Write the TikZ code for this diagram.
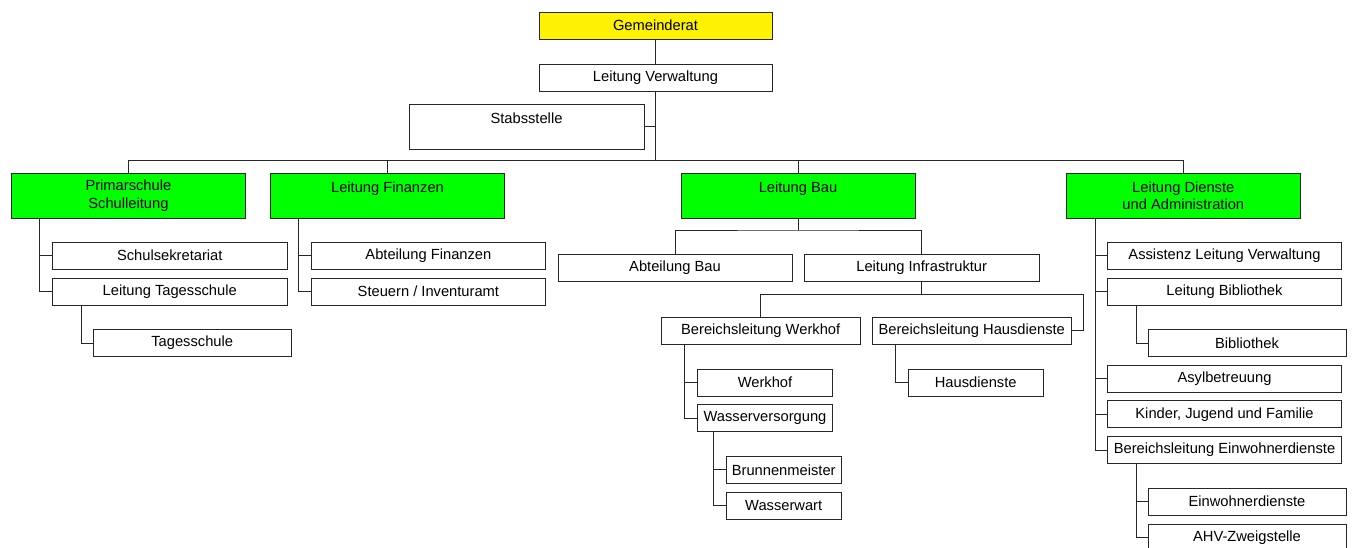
\documentclass[tikz,border=0pt]{standalone}
\usepackage{fontspec}
\setmainfont{Liberation Sans}
\usepackage{tikz}

\tikzset{
	orgbox/.style={draw=black!85, line width=1pt, fill=white, inner sep=0pt,
		minimum width=234.5pt, minimum height=27pt, align=center,
		font=\fontsize{14.7}{17.5}\selectfont},
	leadbox/.style={orgbox, fill=green, minimum width=234pt, minimum height=45pt},
	topbox/.style={orgbox, fill=yellow, minimum width=233pt},
	link/.style={draw=black!85, line width=1pt}
}

\begin{document}
\begin{tikzpicture}[x=1pt, y=-1pt]

	\fill[white] (0,0) rectangle (1353,547);
	\useasboundingbox (0,0) rectangle (1353,547);

	\node[topbox] (rat) at (655.5,25.5) {Gemeinderat};
	\node[orgbox, minimum width=233pt] (lv) at (655.5,77.5) {Leitung Verwaltung};
	\node[orgbox, minimum width=235pt, minimum height=45pt] (stab) at (526.5,126.5) {Stabsstelle\\~};

	\node[leadbox] (prim) at (128.4,195.5) {Primarschule\\Schulleitung};
	\node[leadbox] (fin) at (387.5,195.5) {Leitung Finanzen\\~};
	\node[leadbox] (bau) at (798,195.5) {Leitung Bau\\~};
	\node[leadbox] (dienste) at (1183.3,195.5) {Leitung Dienste\\und Administration};

	\node[orgbox] (ssek) at (169.75,255.7) {Schulsekretariat};
	\node[orgbox] (ltag) at (169.75,291.5) {Leitung Tagesschule};
	\node[orgbox, minimum width=198.4pt] (tag) at (192.2,343) {Tagesschule};

	\node[orgbox, minimum width=234pt] (abtfin) at (428.4,255.7) {Abteilung Finanzen};
	\node[orgbox, minimum width=234pt] (steuer) at (428.4,291.5) {Steuern / Inventuramt};

	\node[orgbox, minimum width=234pt] (abtbau) at (675,267.5) {Abteilung Bau};
	\node[orgbox, minimum width=234.7pt] (linfra) at (921.7,267.5) {Leitung Infrastruktur};
	\node[orgbox, minimum width=198.6pt] (bwerk) at (760.7,330.5) {Bereichsleitung Werkhof};
	\node[orgbox, minimum width=198.5pt] (bhaus) at (971.75,330.5) {Bereichsleitung Hausdienste};
	\node[orgbox, minimum width=135pt] (werkhof) at (765,382.5) {Werkhof};
	\node[orgbox, minimum width=135pt] (wasser) at (765,418.3) {Wasserversorgung};
	\node[orgbox, minimum width=115.4pt] (brunnen) at (783.7,469.8) {Brunnenmeister};
	\node[orgbox, minimum width=115.4pt] (wwart) at (783.7,505.5) {Wasserwart};
	\node[orgbox, minimum width=135pt] (hausd) at (975.7,382.5) {Hausdienste};

	\node[orgbox] (ass) at (1224.5,255.7) {Assistenz Leitung Verwaltung};
	\node[orgbox] (lbib) at (1224.5,291.5) {Leitung Bibliothek};
	\node[orgbox, minimum width=198pt] (bib) at (1247,343.3) {Bibliothek};
	\node[orgbox] (asyl) at (1224.5,378.8) {Asylbetreuung};
	\node[orgbox] (kind) at (1224.5,414.4) {Kinder, Jugend und Familie};
	\node[orgbox] (bein) at (1224.5,450) {Bereichsleitung Einwohnerdienste};
	\node[orgbox, minimum width=198pt] (einw) at (1247,501.5) {Einwohnerdienste};
	\node[orgbox, minimum width=198pt] (ahv) at (1247,537.5) {AHV-Zweigstelle};

	\coordinate (bus) at (0,160.5);
	\coordinate (baubus) at (0,230);
	\coordinate (infrabus) at (1083.2,294);

	\draw[link] (rat) -- (lv);
	\draw[link] (lv.south) -- (lv.south |- bus);
	\draw[link] (stab.east) -- (stab.east -| lv.south);
	\draw[link] (prim.north) |- (dienste.north |- bus) -- (dienste.north);
	\draw[link] (fin.north) -- (fin.north |- bus);
	\draw[link] (bau.north) -- (bau.north |- bus);

	\draw[link] ([xshift=28.6pt]prim.south west) |- (ssek.west);
	\draw[link] ([xshift=28.6pt]prim.south west) |- (ltag.west);
	\draw[link] ([xshift=29.3pt]ltag.south west) |- (tag.west);

	\draw[link] ([xshift=28.5pt]fin.south west) |- (abtfin.west);
	\draw[link] ([xshift=28.5pt]fin.south west) |- (steuer.west);

	\draw[link] (bau.south) -- (bau.south |- baubus);
	\draw[link] (abtbau.north) |- (bau.south |- baubus) -| (linfra.north);
	\draw[link] (linfra.south) -- (linfra.south |- infrabus);
	\draw[link] (bwerk.north) |- (infrabus) |- (bhaus.east);
	\draw[link] ([xshift=24pt]bwerk.south west) |- (werkhof.west);
	\draw[link] ([xshift=24pt]bwerk.south west) |- (wasser.west);
	\draw[link] ([xshift=16.1pt]wasser.south west) |- (brunnen.west);
	\draw[link] ([xshift=16.1pt]wasser.south west) |- (wwart.west);
	\draw[link] ([xshift=23.9pt]bhaus.south west) |- (hausd.west);

	\draw[link] ([xshift=29.3pt]dienste.south west) |- (ass.west);
	\draw[link] ([xshift=29.3pt]dienste.south west) |- (lbib.west);
	\draw[link] ([xshift=29.3pt]dienste.south west) |- (asyl.west);
	\draw[link] ([xshift=29.3pt]dienste.south west) |- (kind.west);
	\draw[link] ([xshift=29.3pt]dienste.south west) |- (bein.west);
	\draw[link] ([xshift=29.4pt]lbib.south west) |- (bib.west);
	\draw[link] ([xshift=29.4pt]bein.south west) |- (einw.west);
	\draw[link] ([xshift=29.4pt]bein.south west) |- (ahv.west);
\end{tikzpicture}
\end{document}
